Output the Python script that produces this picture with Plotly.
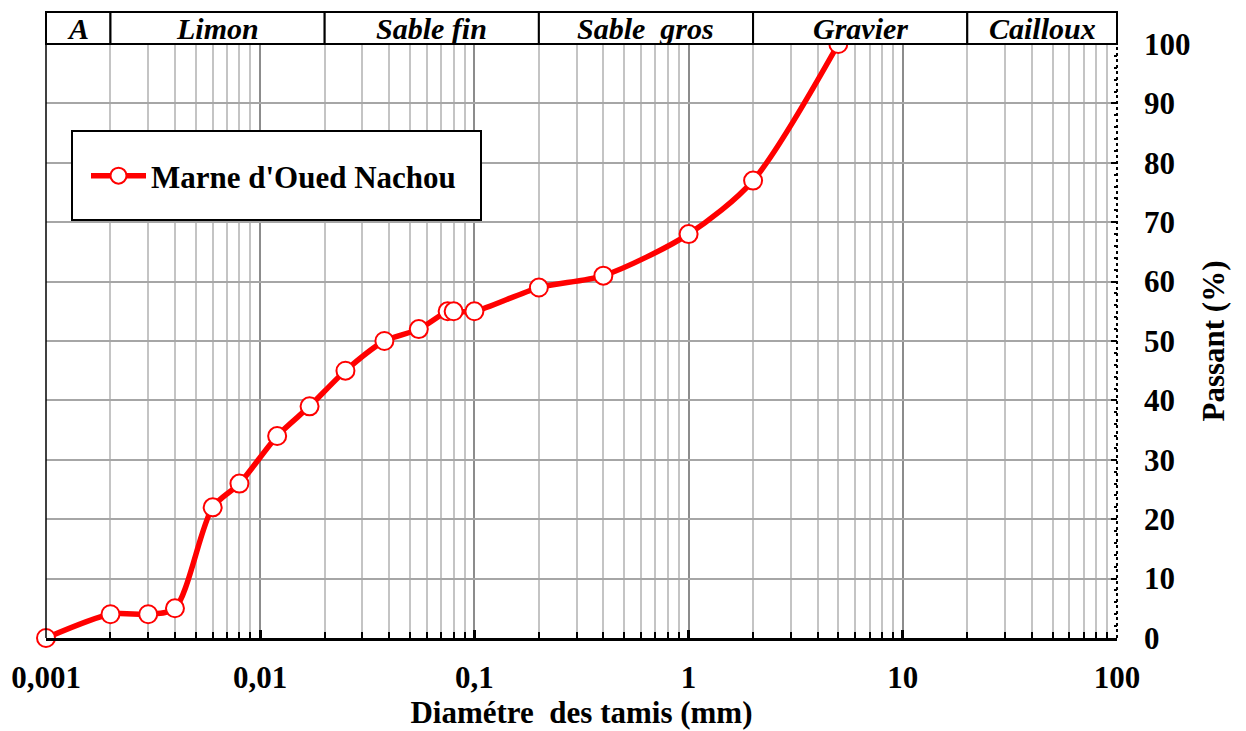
import math
import plotly.graph_objects as go

# ---------------- data ----------------
diam_mm = [0.001, 0.002, 0.003, 0.004, 0.006, 0.008, 0.012, 0.017, 0.025, 0.038,
           0.055, 0.075, 0.080, 0.1, 0.2, 0.4, 1, 2, 5]
passant = [0, 4, 4, 5, 22, 26, 34, 39, 45, 50, 52, 55, 55, 55, 59, 61, 68, 77, 100]
series_name = "Marne d'Oued Nachou"

x_tickvals = [0.001, 0.01, 0.1, 1, 10, 100]
x_ticktext = ["0,001", "0,01", "0,1", "1", "10", "100"]
y_tickvals = [0, 10, 20, 30, 40, 50, 60, 70, 80, 90, 100]

zone_labels = ["A", "Limon", "Sable fin", "Sable  gros", "Gravier", "Cailloux"]
zone_bounds = [0.001, 0.002, 0.02, 0.2, 2, 20, 100]

# ---------------- styles ----------------
SERIF = "Liberation Serif, Times New Roman, serif"
W, H = 1246, 731
ML, MR, MT, MB = 46, 129, 44, 93
XMIN, XMAX = -3, 2

def xpaper(v):
    return (math.log10(v) - XMIN) / (XMAX - XMIN)

minor_vals = [m * 10 ** e for e in range(-3, 2) for m in range(2, 10)]

fig = go.Figure()
fig.add_trace(go.Scatter(
    x=diam_mm, y=passant, mode="lines+markers", name=series_name,
    line=dict(color="#ff0000", width=5.5, shape="spline", smoothing=0.8),
    marker=dict(symbol="circle", size=18, color="white",
                line=dict(color="#ff0000", width=2)),
    cliponaxis=False,
))

shapes = []
plot_h = H - MT - MB
plot_w = W - ML - MR
hdr_top = 1 + (MT - 12) / plot_h
for i in range(len(zone_labels)):
    shapes.append(dict(type="rect", xref="paper", yref="paper",
                       x0=xpaper(zone_bounds[i]), x1=xpaper(zone_bounds[i + 1]),
                       y0=1, y1=hdr_top, line=dict(color="black", width=2),
                       fillcolor="white", layer="above"))
shapes.append(dict(type="line", xref="paper", yref="paper", x0=0, x1=0, y0=0, y1=1,
                   line=dict(color="black", width=1.5), layer="above"))
shapes.append(dict(type="line", xref="paper", yref="paper", x0=1, x1=1, y0=0, y1=1,
                   line=dict(color="black", width=2, dash="dot"), layer="above"))
shapes.append(dict(type="rect", xref="paper", yref="paper",
                   x0=(72 - ML) / plot_w, x1=(481 - ML) / plot_w,
                   y0=(H - MB - 220) / plot_h, y1=(H - MB - 131) / plot_h,
                   line=dict(color="black", width=2), fillcolor="white", layer="above"))

annotations = []
for i, lab in enumerate(zone_labels):
    xc = (xpaper(zone_bounds[i]) + xpaper(zone_bounds[i + 1])) / 2
    annotations.append(dict(xref="paper", yref="paper", x=xc, y=(1 + hdr_top) / 2,
                            text="<b><i>%s</i></b>" % lab, showarrow=False,
                            xanchor="center", yanchor="middle",
                            font=dict(family=SERIF, size=30, color="black")))

fig.update_layout(
    width=W, height=H,
    margin=dict(l=ML, r=MR, t=MT, b=MB, pad=0, autoexpand=False),
    paper_bgcolor="white", plot_bgcolor="white",
    font=dict(family=SERIF, color="black"),
    showlegend=True,
    legend=dict(x=(86 - ML) / plot_w, y=(H - MB - 176) / plot_h, xanchor="left",
                yanchor="middle", xref="paper", yref="paper", itemwidth=55,
                bgcolor="rgba(0,0,0,0)", borderwidth=0,
                font=dict(family=SERIF, size=31, color="black", weight="bold")),
    shapes=shapes,
    annotations=annotations,
    xaxis=dict(
        type="log", range=[XMIN, XMAX], automargin=False,
        tickmode="array", tickvals=x_tickvals, ticktext=x_ticktext,
        tickfont=dict(family=SERIF, size=31, color="black", weight="bold"),
        ticks="inside", ticklen=8, tickwidth=3, tickcolor="black",
        ticklabelstandoff=10,
        showgrid=True, gridcolor="#8c8c8c", gridwidth=2,
        minor=dict(tickmode="array", tickvals=minor_vals, ticks="inside", ticklen=6,
                   tickwidth=2, tickcolor="black", showgrid=True,
                   gridcolor="#c4c4c4", gridwidth=2),
        showline=True, linecolor="black", linewidth=3,
        zeroline=False,
        title=dict(text="<b>Diamétre  des tamis (mm)</b>", standoff=8,
                   font=dict(family=SERIF, size=31, color="black")),
    ),
    yaxis=dict(
        side="right", range=[0, 100], automargin=False,
        tickmode="array", tickvals=y_tickvals,
        tickfont=dict(family=SERIF, size=31, color="black", weight="bold"),
        ticks="inside", ticklen=6, tickwidth=2, tickcolor="black",
        ticklabelstandoff=26,
        showgrid=True, gridcolor="#a6a6a6", gridwidth=2,
        minor=dict(dtick=2, ticks="inside", ticklen=3, tickwidth=2, tickcolor="black",
                   showgrid=False),
        showline=False, zeroline=False,
        title=dict(text="<b>Passant (%)</b>", standoff=12,
                   font=dict(family=SERIF, size=31, color="black")),
    ),
)

fig.write_html("out.html")
